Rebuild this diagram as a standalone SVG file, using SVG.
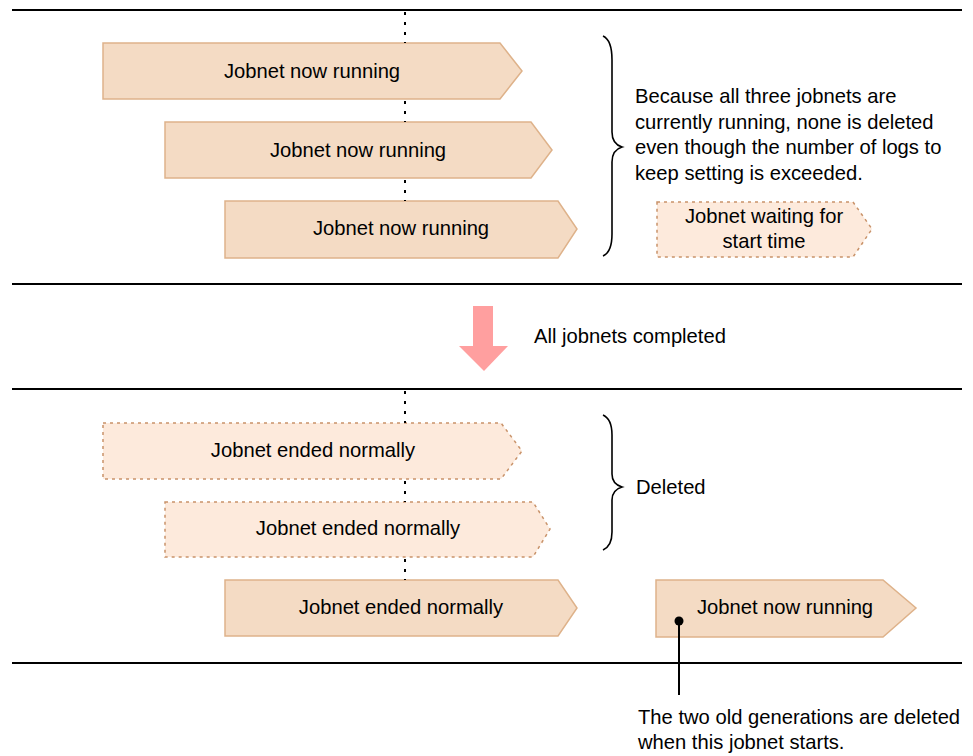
<svg xmlns="http://www.w3.org/2000/svg" width="973" height="756" viewBox="0 0 973 756">
  <style>
    .sep { stroke: #000; stroke-width: 2; fill: none; }
    .dot { stroke: #000; stroke-width: 2; stroke-dasharray: 3 7; fill: none; }
    .run { fill: #f4dbc4; stroke: #deb28a; stroke-width: 1.5; }
    .done { fill: #fdeadc; stroke: #c9936a; stroke-width: 1.5; stroke-dasharray: 3 4; }
    .brace { stroke: #000; stroke-width: 1.6; fill: none; }
    text { font-family: "Liberation Sans", Arial, sans-serif; font-size: 20.2px; fill: #000; }
    .c { text-anchor: middle; }
  </style>

  <!-- period separators -->
  <g id="separators">
    <line class="sep" x1="12" y1="10" x2="962" y2="10"/>
    <line class="sep" x1="12" y1="284" x2="962" y2="284"/>
    <line class="sep" x1="12" y1="389" x2="962" y2="389"/>
    <line class="sep" x1="12" y1="663" x2="962" y2="663"/>
  </g>

  <!-- first state -->
  <g id="run1">
    <path class="run" d="M103,43 H500 L522,71 L500,99 H103 Z"/>
    <text class="c" x="312" y="78">Jobnet now running</text>
  </g>
  <g id="run2">
    <path class="run" d="M165,122 H531 L552,150 L531,178 H165 Z"/>
    <text class="c" x="358" y="157">Jobnet now running</text>
  </g>
  <g id="run3">
    <path class="run" d="M225,201 H558 L577,229 L558,258 H225 Z"/>
    <text class="c" x="401" y="235">Jobnet now running</text>
  </g>
  <g id="note1">
    <text x="635" y="103">Because all three jobnets are</text>
    <text x="635" y="128.5">currently running, none is deleted</text>
    <text x="635" y="154">even though the number of logs to</text>
    <text x="635" y="179.5">keep setting is exceeded.</text>
  </g>
  <g id="waiting">
    <path class="done" d="M657,202 H853 L872,229 L853,257 H657 Z"/>
    <text class="c" x="764" y="223">Jobnet waiting for</text>
    <text class="c" x="764" y="248">start time</text>
  </g>

  <!-- transition -->
  <g id="transition">
    <path d="M473,306 H493 V346 H508 L484,371 L459,346 H473 Z" fill="#ff9f9f"/>
    <text x="534" y="343">All jobnets completed</text>
  </g>

  <!-- second state -->
  <g id="ended1">
    <path class="done" d="M103,423 H501 L522,451 L501,479 H103 Z"/>
    <text class="c" x="313" y="457">Jobnet ended normally</text>
  </g>
  <g id="ended2">
    <path class="done" d="M165,502 H533 L550,529 L533,557 H165 Z"/>
    <text class="c" x="358" y="535">Jobnet ended normally</text>
  </g>
  <g id="ended3">
    <path class="run" d="M225,580 H558 L577,608 L558,636 H225 Z"/>
    <text class="c" x="401" y="614">Jobnet ended normally</text>
  </g>
  <g id="deleted-note">
    <text x="636" y="494">Deleted</text>
  </g>
  <g id="run4">
    <path class="run" d="M656,580 H883 L916,608 L883,637 H656 Z"/>
    <text class="c" x="785" y="614">Jobnet now running</text>
  </g>
  <g id="callout">
    <text x="638" y="724">The two old generations are deleted</text>
    <text x="638" y="749">when this jobnet starts.</text>
  </g>

  <!-- connectors: dotted timeline, braces, callout leader (drawn over the boxes) -->
  <g id="connectors">
    <line class="dot" x1="405" y1="12" x2="405" y2="43"/>
    <line class="dot" x1="405" y1="101" x2="405" y2="122"/>
    <line class="dot" x1="405" y1="180" x2="405" y2="201"/>
    <line class="dot" x1="405" y1="391" x2="405" y2="423"/>
    <line class="dot" x1="405" y1="481" x2="405" y2="502"/>
    <line class="dot" x1="405" y1="559" x2="405" y2="580"/>
    <path class="brace" d="M603,36 Q612,40 612,60 L612,132 Q612,144 622,147 Q612,150 612,162 L612,234 Q612,252 603,256"/>
    <path class="brace" d="M603,415 Q612,419 612,435 L612,474 Q612,484 622,487 Q612,490 612,500 L612,532 Q612,546 603,550"/>
    <line x1="679" y1="621" x2="679" y2="695" stroke="#000" stroke-width="2"/>
    <circle cx="679" cy="621" r="4.5" fill="#000"/>
  </g>
</svg>
